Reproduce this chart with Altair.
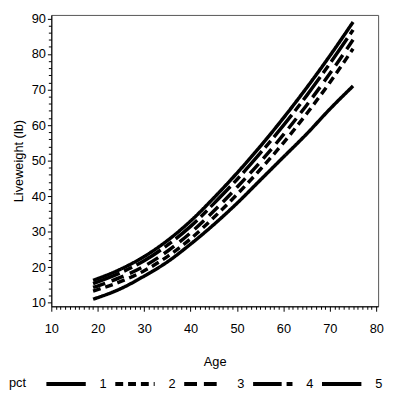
import altair as alt
import pandas as pd

ages = [19, 25, 30, 35, 40, 45, 50, 55, 60, 65, 70, 75]
pct1 = [11.0, 14.0, 17.5, 21.5, 26.5, 32.0, 38.0, 44.5, 51.0, 57.5, 64.5, 71.0]
pct2 = [13.3, 16.0, 19.0, 23.0, 28.0, 34.0, 40.5, 47.5, 55.0, 63.2, 72.0, 81.5]
pct3 = [14.3, 17.2, 20.3, 24.5, 29.7, 35.8, 42.5, 49.6, 57.3, 65.6, 74.5, 84.0]
pct4 = [15.4, 18.5, 21.8, 26.2, 31.5, 37.9, 44.7, 52.1, 59.9, 68.3, 77.3, 86.8]
pct5 = [16.3, 19.5, 23.0, 27.5, 33.0, 39.5, 46.5, 54.0, 62.0, 70.5, 79.5, 89.0]
groups = ["1", "2", "3", "4", "5"]
series = [pct1, pct2, pct3, pct4, pct5]
dashes = [[1, 0], [8, 5], [13, 7], [29, 5, 9, 5], [1, 0]]
x_ticks = list(range(10, 81))
y_ticks = list(range(10, 91, 2))

rows = []
for g, vals in zip(groups, series):
    for a, v in zip(ages, vals):
        rows.append({"Age": a, "Liveweight": v, "pct": g})
df = pd.DataFrame(rows)

FONT = "Liberation Sans"

chart = alt.Chart(df).mark_line(
    strokeWidth=3.5, color="black", interpolate="monotone", strokeCap="butt"
).encode(
    x=alt.X("Age:Q", title="Age",
            scale=alt.Scale(domain=[10, 80.4], nice=False, zero=False),
            axis=alt.Axis(values=x_ticks,
                          labelExpr="datum.value % 10 === 0 ? datum.label : ''",
                          tickSize={"condition": {"test": "datum.value % 10 === 0", "value": 5}, "value": 3},
                          labelPadding=12, labelFlush=False, labelOverlap=False,
                          titlePadding=20)),
    y=alt.Y("Liveweight:Q", title="Liveweight (lb)",
            scale=alt.Scale(domain=[9, 91], nice=False, zero=False),
            axis=alt.Axis(values=y_ticks,
                          labelExpr="datum.value % 10 === 0 ? datum.label : ''",
                          tickSize={"condition": {"test": "datum.value % 10 === 0", "value": 4}, "value": 3},
                          labelPadding=2, labelFlush=False, labelOverlap=False,
                          titlePadding=6)),
    strokeDash=alt.StrokeDash("pct:N", title="pct",
                              scale=alt.Scale(domain=groups, range=dashes),
                              legend=alt.Legend(orient="none", legendX=-43, legendY=353,
                                                direction="horizontal", titleOrient="left",
                                                titleAnchor="middle", titleBaseline="top",
                                                symbolType="stroke", symbolSize=1600,
                                                symbolStrokeWidth=4, symbolStrokeColor="black",
                                                labelOffset=12, columnPadding=0,
                                                titlePadding=18)),
).properties(
    width=332, height=296,
    autosize=alt.AutoSizeParams(type="none"),
    padding={"left": 44, "top": 4, "right": 8, "bottom": 84},
).configure_view(
    stroke="#555", strokeWidth=1
).configure_axis(
    grid=False, domainColor="black", tickColor="black",
    labelFont=FONT, labelFontSize=13, labelColor="black",
    titleFont=FONT, titleFontSize=13, titleFontWeight="normal", titleColor="black"
).configure_legend(
    labelFont=FONT, labelFontSize=13, labelColor="black",
    titleFont=FONT, titleFontSize=13, titleFontWeight="normal", titleColor="black"
)

chart.save("out.html", embed_options={"renderer": "svg", "actions": False})
